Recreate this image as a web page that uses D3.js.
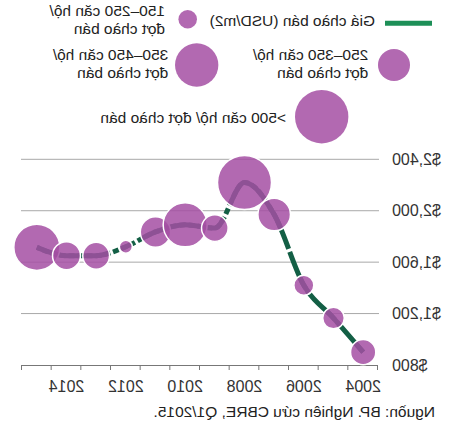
<!DOCTYPE html>
<html>
<head>
<meta charset="utf-8">
<script src="https://cdn.jsdelivr.net/npm/d3@7"></script>
<style>
  body { margin: 0; background: #fff; }
  svg { display: block; }
  text { font-family: "Liberation Sans", Arial, sans-serif; fill: #222; }
</style>
</head>
<body>
<svg id="chart" width="449" height="429"></svg>
<script>
// data
var years  = [2004, 2005, 2006, 2007, 2008, 2009, 2010, 2011, 2012, 2013, 2014, 2015];
var prices = [900, 1165, 1420, 1970, 2220, 1865, 1890, 1835, 1720, 1650, 1650, 1715];
var units  = [236, 202, 187, 305, 506, 249, 412, 285, 122, 251, 262, 431];

var yTicks  = [800, 1200, 1600, 2000, 2400];
var xTicks  = [2004, 2005, 2006, 2007, 2008, 2009, 2010, 2011, 2012, 2013, 2014, 2015, 2016];
var xLabels = [2004, 2006, 2008, 2010, 2012, 2014];

var legendLabels = [
    ["150\u2013250 căn hộ/", "đợt chào bán"],
    ["250\u2013350 căn hộ/", "đợt chào bán"],
    ["350\u2013450 căn hộ/", "đợt chào bán"],
    [">500 căn hộ/ đợt chào bán"]
];
var legendUnits = [174, 300, 406, 500];
var lineLabel  = "Giá chào bán (USD/m2)";
var sourceText = "Nguồn: BP. Nghiên cứu CBRE, Q1/2015.";

var W = 449, H = 429;
var bubbleColor = "#a44fa3", lineColor = "#135f45", legendLineColor = "#1d8f57";

var svg = d3.select("#chart");
// the reference is flipped left-right, so draw it normally and mirror the whole group
var g = svg.append("g").attr("transform", "translate(" + W + ",0) scale(-1,1)");

var x = d3.scaleLinear().domain([2004, 2016]).range([71, 427]);
var y = d3.scaleLinear().domain([800, 2400]).range([365, 159.3]);
var r = d3.scaleLinear().domain([0, 500]).range([0, 26.7]);

var data = years.map(function(yr, i) {
    return { year: yr, price: prices[i], units: units[i] };
});

/* gridlines + y labels */
g.selectAll(".grid").data(yTicks.filter(function(v) { return v > 800; }))
    .enter().append("line")
    .attr("x1", 70).attr("x2", 428)
    .attr("y1", function(d) { return y(d); }).attr("y2", function(d) { return y(d); })
    .attr("stroke", "#a8a8a8").attr("stroke-width", 1);

g.selectAll(".ylab").data(yTicks).enter().append("text")
    .attr("x", 57).attr("y", function(d) { return y(d); })
    .attr("dy", "0.36em")
    .attr("text-anchor", "end")
    .style("font-size", "16px")
    .style("fill", "#333")
    .text(d3.format("$,"));

/* x axis */
var xAxis = d3.axisBottom(x).tickValues(xTicks).tickSize(5).tickFormat("");
var ax = g.append("g").attr("transform", "translate(0," + y(800) + ")").call(xAxis);
ax.select(".domain").attr("stroke", "#777");
ax.selectAll(".tick line").attr("stroke", "#777");

g.selectAll(".xlab").data(xLabels).enter().append("text")
    .attr("x", function(d) { return x(d + 0.5); })
    .attr("y", 392)
    .attr("text-anchor", "middle")
    .style("font-size", "16px")
    .style("fill", "#333")
    .text(function(d) { return d; });

/* price line: near-solid up to 2007, short dashes after, solid under the bubbles */
var line = d3.line()
    .x(function(d) { return x(d.year + 0.5); })
    .y(function(d) { return y(d.price); })
    .curve(d3.curveMonotoneX);

var defs = svg.append("defs");
var split = x(2007.5);
defs.append("clipPath").attr("id", "clipA").append("rect")
    .attr("x", 0).attr("y", 0).attr("width", split).attr("height", H);
defs.append("clipPath").attr("id", "clipB").append("rect")
    .attr("x", split).attr("y", 0).attr("width", W - split).attr("height", H);
defs.append("clipPath").attr("id", "clipBub").selectAll("circle")
    .data(data).enter().append("circle")
    .attr("cx", function(d) { return x(d.year + 0.5); })
    .attr("cy", function(d) { return y(d.price); })
    .attr("r", function(d) { return r(d.units); });

g.append("path").datum(data)
    .attr("d", line)
    .attr("clip-path", "url(#clipA)")
    .attr("fill", "none").attr("stroke", lineColor).attr("stroke-width", 5)
    .attr("stroke-dasharray", "40,3");
g.append("path").datum(data)
    .attr("d", line)
    .attr("clip-path", "url(#clipB)")
    .attr("fill", "none").attr("stroke", lineColor).attr("stroke-width", 5)
    .attr("stroke-dasharray", "6,3");
g.append("path").datum(data)
    .attr("d", line)
    .attr("clip-path", "url(#clipBub)")
    .attr("fill", "none").attr("stroke", lineColor).attr("stroke-width", 5);

/* bubbles */
var sorted = data.slice().sort(function(a, b) { return b.year - a.year; });
g.selectAll(".bubble").data(sorted).enter().append("circle")
    .attr("cx", function(d) { return x(d.year + 0.5); })
    .attr("cy", function(d) { return y(d.price); })
    .attr("r", function(d) { return r(d.units); })
    .attr("fill", bubbleColor).attr("fill-opacity", 0.85)
    .attr("stroke", "#fff").attr("stroke-width", 1.5);

/* legend */
g.append("line")
    .attr("x1", 17).attr("x2", 64).attr("y1", 23.2).attr("y2", 23.2)
    .attr("stroke", legendLineColor).attr("stroke-width", 5);
g.append("text").attr("x", 74).attr("y", 26)
    .style("font-size", "15.5px").text(lineLabel);

var legendPos = [
    { cx: 261.3, cy: 19.3, tx: 284, ty: 16 },
    { cx: 55, cy: 65, tx: 80.7, ty: 60 },
    { cx: 252.3, cy: 65, tx: 280.7, ty: 60 },
    { cx: 127.3, cy: 116.7, tx: 163, ty: 122.5 }
];
legendUnits.forEach(function(u, i) {
    var p = legendPos[i];
    g.append("circle")
        .attr("cx", p.cx).attr("cy", p.cy).attr("r", r(u))
        .attr("fill", bubbleColor).attr("fill-opacity", 0.85);
    var t = g.append("text").attr("x", p.tx).attr("y", p.ty).style("font-size", "15.5px");
    legendLabels[i].forEach(function(s, k) {
        t.append("tspan").attr("x", p.tx).attr("dy", k == 0 ? 0 : 17.5).text(s);
    });
});

/* source */
g.append("text").attr("x", 14).attr("y", 416.7)
    .style("font-size", "15.5px").text(sourceText);
</script>
</body>
</html>
